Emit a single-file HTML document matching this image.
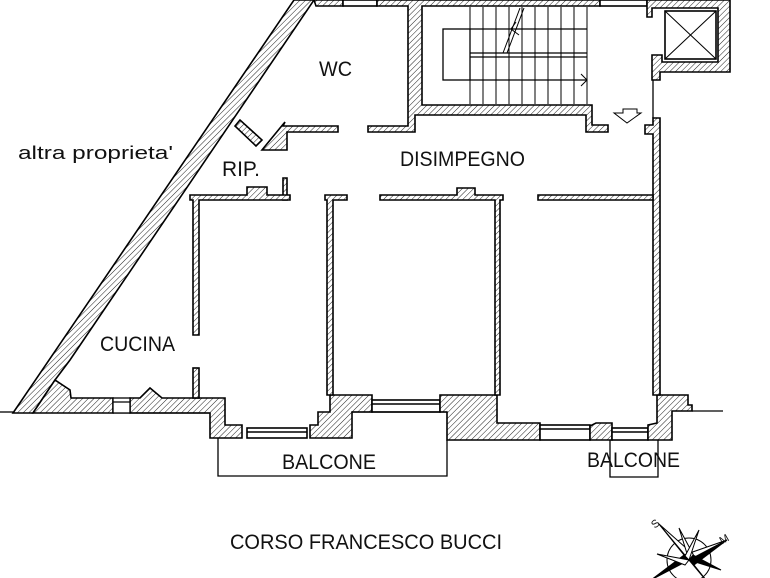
<!DOCTYPE html>
<html><head><meta charset="utf-8"><style>
html,body{margin:0;padding:0;background:#fff;}
svg{display:block}
text{font-family:"Liberation Sans",sans-serif;fill:#111}
</style></head><body>
<svg width="770" height="578" viewBox="0 0 770 578" xmlns="http://www.w3.org/2000/svg">
<defs>
<pattern id="h" width="4" height="4" patternUnits="userSpaceOnUse" patternTransform="rotate(45)">
<rect width="4" height="4" fill="#fff"/><line x1="0" y1="0" x2="0" y2="4" stroke="#222" stroke-width="1"/>
</pattern>
</defs>
<g stroke="#000" stroke-width="1.6" fill="url(#h)">
<polygon points="13,413 294,0 314,0 70,360 55,380 33,413"/>
<polygon points="33,413 55,380 70,390 71,398 113,398 113,413"/>
<polygon points="130,413 130,398 140,398 150,388 162,398 225,398 225,425 242,425 242,438 210,438 210,413"/>
<polygon points="310,438 310,425 318,425 318,412 330,412 330,395 372,395 372,412 352,412 352,438"/>
<rect x="247" y="428" width="60" height="10" fill="#fff"/>
<line x1="247" y1="432" x2="307" y2="432"/>
<rect x="372" y="400" width="68" height="12" fill="#fff"/>
<line x1="372" y1="404" x2="440" y2="404"/>
<polygon points="440,412 440,395 497,395 497,423 540,423 540,440 447,440 447,412"/>
<rect x="540" y="425" width="50" height="15" fill="#fff"/>
<line x1="540" y1="429" x2="590" y2="429"/>
<polygon points="590,440 590,426 596,423 612,423 612,440"/>
<rect x="612" y="428" width="36" height="12" fill="#fff"/>
<line x1="612" y1="432" x2="648" y2="432"/>
<polygon points="648,440 648,425 657,423 657,395 688,395 688,405 692,405 692,411 672,411 672,440"/>
<polygon points="314,0 343,0 343,6 316,6"/>
<rect x="343" y="0" width="34" height="6" fill="#fff"/>
<polygon points="377,0 600,0 600,6 422,6 422,105 592,105 592,125 608,125 608,132 586,132 586,115 415,115 415,132 368,132 368,126 408,126 408,6 377,6"/>
<rect x="600" y="0" width="47" height="6" fill="#fff"/>
<polygon points="647,0 730,0 730,72 660,72 660,80 652,80 652,55 662,55 662,62 718,62 718,8 652,8 652,17 647,17"/>
<rect x="665" y="11" width="51" height="48" fill="#fff"/>
<polygon points="645,125 653,125 653,118 660,118 660,395 653,395 653,134 645,134"/>
<polygon points="283,126 338,126 338,132 287,132 287,150 262,150 280,128 285,122"/>
<polygon points="235,126 240,120 262,140 256,146"/>
<polygon points="283,178 287,178 287,200 283,200"/>
<polygon points="190,195 247,195 247,187 267,187 267,195 290,195 290,200 199,200 199,335 193,335 193,200 190,200"/>
<polygon points="325,195 347,195 347,200 333,200 333,395 327,395 327,200 325,200"/>
<polygon points="380,195 457,195 457,188 475,188 475,195 503,195 503,200 500,200 500,395 495,395 495,200 380,200"/>
<polygon points="538,195 653,195 653,200 538,200"/>
<rect x="193" y="368" width="6" height="30"/>
</g>
<g stroke="#000" fill="none" stroke-width="1.3">
<line x1="0" y1="412" x2="13" y2="412"/>
<line x1="210" y1="413" x2="113" y2="413"/>
<rect x="113" y="398" width="17" height="15" fill="#fff"/>
<line x1="113" y1="402" x2="130" y2="402"/>
<line x1="692" y1="411" x2="723" y2="411"/>
<line x1="653" y1="80" x2="653" y2="118"/>
<line x1="352" y1="412" x2="447" y2="412"/>
<polyline points="218,438 218,476 447,476 447,440"/>
<polyline points="610,440 610,477 658,477 658,440"/>
<rect x="443" y="29" width="27" height="51"/>
<line x1="470" y1="53" x2="587" y2="53"/><line x1="470" y1="57" x2="587" y2="57"/>
<line x1="470" y1="29" x2="587" y2="29"/><line x1="470" y1="80" x2="587" y2="80"/>
<g stroke-width="1">
<line x1="470" y1="7" x2="470" y2="104"/><line x1="483" y1="7" x2="483" y2="104"/><line x1="496" y1="7" x2="496" y2="104"/><line x1="509" y1="7" x2="509" y2="104"/><line x1="522" y1="7" x2="522" y2="104"/><line x1="535" y1="7" x2="535" y2="104"/><line x1="548" y1="7" x2="548" y2="104"/><line x1="561" y1="7" x2="561" y2="104"/><line x1="574" y1="7" x2="574" y2="104"/><line x1="587" y1="7" x2="587" y2="104"/>
<line x1="503" y1="53" x2="520" y2="8"/><line x1="507" y1="53" x2="524" y2="8"/>
<polyline points="516,22 511,29 519,35"/>
<polyline points="581,74 587,80 581,86"/>
<line x1="665" y1="11" x2="716" y2="59"/><line x1="716" y1="11" x2="665" y2="59"/>
<polygon points="614,113 623,113 623,109 637,109 637,113 641,113 627,123" />
</g>
</g>
<g stroke="#000" stroke-width="1" transform="translate(689,560)">
<circle r="22" fill="none"/>
<polygon points="0,0 -30,-36 -5,-5" fill="#000"/>
<polygon points="0,0 -30,-36 5,-5" fill="#fff"/>
<polygon points="0,0 38,-20 5,5" fill="#000"/>
<polygon points="0,0 38,-20 -5,-5" fill="#fff"/>
<polygon points="0,0 30,36 5,5" fill="#000"/>
<polygon points="0,0 -38,20 -5,-5" fill="#000"/>
<polygon points="0,0 -10,-32 5,-4" fill="#fff"/>
<polygon points="0,0 10,-30 -4,-4" fill="#fff"/>
<polygon points="0,0 -32,-6 -4,5" fill="#fff"/>
<polygon points="0,0 32,10 4,-5" fill="#000"/>
</g>
<text x="652" y="527" font-size="11" transform="rotate(-40 656 524)">S</text>
<text x="720" y="543" font-size="11" transform="rotate(-30 724 540)">M</text>
<g font-size="21">
<text x="18" y="159" font-size="18" textLength="155" lengthAdjust="spacingAndGlyphs">altra proprieta'</text>
<text x="319" y="76" textLength="33" lengthAdjust="spacingAndGlyphs">WC</text>
<text x="400" y="166" textLength="125" lengthAdjust="spacingAndGlyphs">DISIMPEGNO</text>
<text x="222" y="176" textLength="38" lengthAdjust="spacingAndGlyphs">RIP.</text>
<text x="100" y="351" textLength="75" lengthAdjust="spacingAndGlyphs">CUCINA</text>
<text x="282" y="469" textLength="94" lengthAdjust="spacingAndGlyphs">BALCONE</text>
<text x="587" y="467" textLength="93" lengthAdjust="spacingAndGlyphs">BALCONE</text>
<text x="230" y="549" textLength="272" lengthAdjust="spacingAndGlyphs">CORSO FRANCESCO BUCCI</text>
</g>
</svg>
</body></html>
